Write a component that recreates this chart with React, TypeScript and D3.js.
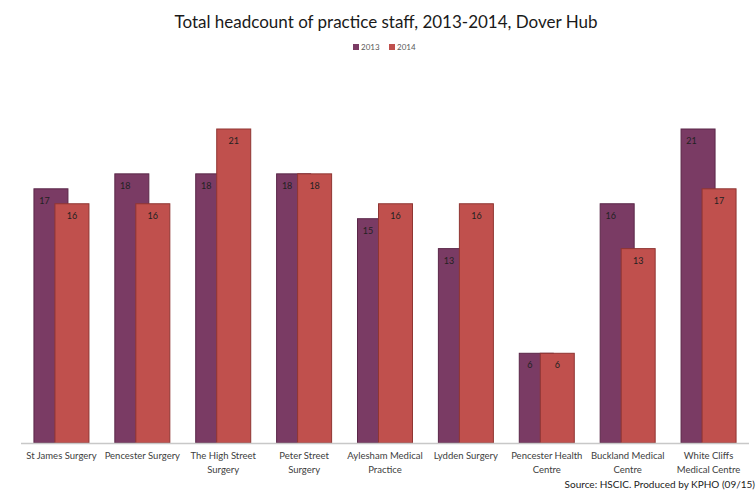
import React from "react";
import * as d3 from "d3";

const categories = [
  "St James Surgery",
  "Pencester Surgery",
  "The High Street\nSurgery",
  "Peter Street\nSurgery",
  "Aylesham Medical\nPractice",
  "Lydden Surgery",
  "Pencester Health\nCentre",
  "Buckland Medical\nCentre",
  "White Cliffs\nMedical Centre",
];
const values2013 = [17, 18, 18, 18, 15, 13, 6, 16, 21];
const values2014 = [16, 16, 21, 18, 16, 16, 6, 13, 17];
const seriesNames = ["2013", "2014"];

const W = 756;
const H = 491;
const C2013 = "#7A3B64";
const C2014 = "#C0504D";
const S2013 = "#5a2748";
const S2014 = "#8f3532";
const FONT = "Lato, 'Open Sans', sans-serif";

export default function App() {
  const x = d3.scaleBand<string>().domain(categories).range([21, 749]).paddingInner(0).paddingOuter(0);
  const y = d3.scaleLinear().domain([0, 21]).range([443, 129]);
  const bw = 34;
  const off = 21;
  const groupW = bw + off;

  return (
    <svg width={W} height={H} style={{ position: "absolute", left: 0, top: 0, background: "#fff" }}>
      <text x={386} y={28} textAnchor="middle" fontFamily={FONT} fontSize={17} fill="#1a1a1a">
        Total headcount of practice staff, 2013-2014, Dover Hub
      </text>
      {seriesNames.map((s, i) => {
        const lx = 353 + i * 36;
        return (
          <g key={s}>
            <rect x={lx} y={44} width={6} height={6} fill={i === 0 ? C2013 : C2014} />
            <text x={lx + 8} y={50} fontFamily={FONT} fontSize={8} fill="#595959">
              {s}
            </text>
          </g>
        );
      })}
      {categories.map((c, i) => {
        const cx = (x(c) as number) + x.bandwidth() / 2;
        const x0 = cx - groupW / 2;
        const x1 = x0 + off;
        const v0 = values2013[i];
        const v1 = values2014[i];
        const lines = c.split("\n");
        return (
          <g key={c}>
            <rect x={x0} y={y(v0)} width={bw} height={y(0) - y(v0)} fill={C2013} stroke={S2013} strokeWidth={1} />
            <rect x={x1} y={y(v1)} width={bw} height={y(0) - y(v1)} fill={C2014} stroke={S2014} strokeWidth={1} />
            <text x={x0 + off / 2} y={y(v0) + 15} textAnchor="middle" fontFamily={FONT} fontSize={9} fill="#222">
              {v0}
            </text>
            <text x={x1 + bw / 2} y={y(v1) + 15} textAnchor="middle" fontFamily={FONT} fontSize={9} fill="#222">
              {v1}
            </text>
            {lines.map((l, j) => (
              <text key={j} x={cx} y={459 + j * 13.5} textAnchor="middle" fontFamily={FONT} fontSize={9.5} fill="#404040">
                {l}
              </text>
            ))}
          </g>
        );
      })}
      <line x1={21} x2={749} y1={443.5} y2={443.5} stroke="#c8c8c8" strokeWidth={1.5} />
      <text x={755} y={488} textAnchor="end" fontFamily={FONT} fontSize={10} fill="#222">
        Source: HSCIC. Produced by KPHO (09/15)
      </text>
    </svg>
  );
}
